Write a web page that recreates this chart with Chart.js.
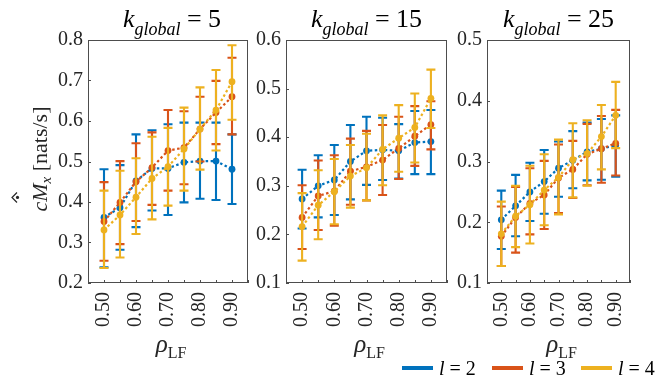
<!DOCTYPE html>
<html>
<head>
<meta charset="utf-8">
<script src="https://cdn.jsdelivr.net/npm/chart.js@4.4.1/dist/chart.umd.min.js"></script>
<style>
  html, body { margin: 0; padding: 0; background: #fff; }
  #wrap { position: relative; width: 663px; height: 381px; }
  #wrap canvas { position: absolute; left: 0; top: 0; }
</style>
</head>
<body>
<div id="wrap">
  <canvas id="c5" width="663" height="381"></canvas>
  <canvas id="c15" width="663" height="381"></canvas>
  <canvas id="c25" width="663" height="381"></canvas>
</div>
<script>
// eixo x: rho_LF
const rhoLF = [0.50, 0.55, 0.60, 0.65, 0.70, 0.75, 0.80, 0.85, 0.90];
const seriesLabels = ['2', '3', '4'];   // l = 2, 3, 4

// k_global = 5  (media, limite inferior, limite superior)
const k5_l2_mean = [0.362, 0.386, 0.452, 0.483, 0.483, 0.498, 0.501, 0.501, 0.481];
const k5_l2_lo   = [0.239, 0.282, 0.338, 0.379, 0.368, 0.399, 0.408, 0.405, 0.395];
const k5_l2_hi   = [0.481, 0.491, 0.567, 0.577, 0.592, 0.596, 0.596, 0.596, 0.567];
const k5_l3_mean = [0.352, 0.399, 0.450, 0.485, 0.527, 0.534, 0.580, 0.621, 0.660];
const k5_l3_lo   = [0.255, 0.296, 0.353, 0.393, 0.428, 0.444, 0.500, 0.543, 0.567];
const k5_l3_hi   = [0.449, 0.501, 0.545, 0.572, 0.627, 0.624, 0.660, 0.699, 0.756];
const k5_l4_mean = [0.331, 0.368, 0.412, 0.458, 0.487, 0.531, 0.580, 0.627, 0.697];
const k5_l4_lo   = [0.237, 0.263, 0.321, 0.357, 0.391, 0.428, 0.480, 0.527, 0.603];
const k5_l4_hi   = [0.428, 0.477, 0.508, 0.561, 0.583, 0.633, 0.683, 0.726, 0.787];

// k_global = 15
const k15_l2_mean = [0.273, 0.300, 0.312, 0.350, 0.372, 0.374, 0.372, 0.389, 0.391];
const k15_l2_lo   = [0.212, 0.235, 0.240, 0.272, 0.302, 0.312, 0.315, 0.324, 0.324];
const k15_l2_hi   = [0.333, 0.363, 0.384, 0.425, 0.442, 0.440, 0.427, 0.454, 0.456];
const k15_l3_mean = [0.235, 0.279, 0.289, 0.330, 0.339, 0.353, 0.377, 0.402, 0.426];
const k15_l3_lo   = [0.170, 0.209, 0.218, 0.261, 0.270, 0.281, 0.314, 0.341, 0.375];
const k15_l3_hi   = [0.301, 0.352, 0.363, 0.397, 0.413, 0.425, 0.442, 0.464, 0.474];
const k15_l4_mean = [0.216, 0.260, 0.288, 0.320, 0.337, 0.375, 0.398, 0.420, 0.480];
const k15_l4_lo   = [0.146, 0.190, 0.221, 0.255, 0.270, 0.301, 0.329, 0.348, 0.419];
const k15_l4_hi   = [0.285, 0.332, 0.355, 0.384, 0.407, 0.445, 0.466, 0.490, 0.539];

// k_global = 25
const k25_l2_mean = [0.204, 0.227, 0.250, 0.267, 0.289, 0.302, 0.316, 0.321, 0.327];
const k25_l2_lo   = [0.156, 0.177, 0.202, 0.214, 0.242, 0.256, 0.269, 0.270, 0.275];
const k25_l2_hi   = [0.252, 0.278, 0.298, 0.319, 0.333, 0.350, 0.364, 0.370, 0.376];
const k25_l3_mean = [0.177, 0.208, 0.231, 0.245, 0.273, 0.287, 0.312, 0.321, 0.330];
const k25_l3_lo   = [0.128, 0.150, 0.180, 0.189, 0.215, 0.240, 0.261, 0.265, 0.277];
const k25_l3_hi   = [0.226, 0.258, 0.289, 0.301, 0.328, 0.334, 0.362, 0.375, 0.385];
const k25_l4_mean = [0.181, 0.210, 0.229, 0.253, 0.274, 0.303, 0.313, 0.341, 0.376];
const k25_l4_lo   = [0.128, 0.159, 0.165, 0.195, 0.213, 0.241, 0.260, 0.287, 0.322];
const k25_l4_hi   = [0.234, 0.260, 0.293, 0.312, 0.336, 0.363, 0.368, 0.393, 0.431];

const CORES = ['#0072BD', '#D95319', '#EDB120'];
const FONTE = '"Liberation Serif", "Times New Roman", serif';
const EIXO = '#4d4d4d';

Chart.defaults.font.family = FONTE;
Chart.defaults.font.size = 20;
Chart.defaults.color = '#262626';

// desenha pedaços de texto com fontes diferentes (subscritos etc.)
function desenhaPartes(ctx, partes, cx, y) {
    let total = 0;
    partes.forEach(p => { ctx.font = p.f; p.w = ctx.measureText(p.t).width; total += p.w; });
    let x = cx - total / 2;
    partes.forEach(p => {
        ctx.font = p.f;
        ctx.fillText(p.t, x, y + (p.dy || 0));
        p.x = x;
        x += p.w;
    });
    return partes;
}

// barras de erro: desenhadas antes de cada dataset, assim ficam por baixo da linha
const barrasErro = {
    id: 'barrasErro',
    beforeDatasetDraw(chart, args) {
        const ds = chart.data.datasets[args.index];
        const { ctx, scales: { x, y } } = chart;
        ctx.save();
        ctx.strokeStyle = ds.borderColor;
        ctx.lineWidth = 2.1;
        ctx.lineCap = 'butt';
        rhoLF.forEach((r, i) => {
            const px = x.getPixelForValue(r);
            const yl = y.getPixelForValue(ds.errLo[i]);
            const yh = y.getPixelForValue(ds.errHi[i]);
            ctx.beginPath();
            ctx.moveTo(px, yl); ctx.lineTo(px, yh);
            ctx.moveTo(px - 4.5, yl); ctx.lineTo(px + 4.5, yl);
            ctx.moveTo(px - 4.5, yh); ctx.lineTo(px + 4.5, yh);
            ctx.stroke();
        });
        ctx.restore();
    }
};

// moldura, ticks para dentro, titulo, rotulos dos eixos, legenda
const textosPainel = {
    id: 'textosPainel',
    afterDraw(chart, args, opts) {
        const { ctx, chartArea: a, scales: { x, y } } = chart;
        ctx.save();
        ctx.strokeStyle = EIXO;
        ctx.lineWidth = 1;
        ctx.strokeRect(a.left + 0.5, a.top + 0.5, a.right - a.left - 1, a.bottom - a.top - 1);
        ctx.beginPath();
        x.ticks.forEach(t => {
            const px = Math.round(x.getPixelForValue(t.value)) + 0.5;
            ctx.moveTo(px, a.bottom); ctx.lineTo(px, a.bottom - 3);
        });
        y.ticks.forEach(t => {
            const py = Math.round(y.getPixelForValue(t.value)) + 0.5;
            ctx.moveTo(a.left, py); ctx.lineTo(a.left + 3, py);
        });
        ctx.stroke();

        ctx.fillStyle = '#000';
        ctx.textBaseline = 'alphabetic';
        const cx = (a.left + a.right) / 2;
        desenhaPartes(ctx, [
            { t: 'k', f: 'italic 26px ' + FONTE },
            { t: 'global', f: 'italic 18px ' + FONTE, dy: 8 },
            { t: ' = ' + opts.k, f: '26px ' + FONTE }
        ], cx + (opts.tituloDx || 0), 27);

        ctx.fillStyle = '#262626';
        desenhaPartes(ctx, [
            { t: 'ρ', f: 'italic 25px ' + FONTE },
            { t: 'LF', f: '16px ' + FONTE, dy: 6 }
        ], cx + 3, 352);

        if (opts.rotuloY) {
            ctx.save();
            ctx.translate(47, 159);
            ctx.rotate(-Math.PI / 2);
            const p = desenhaPartes(ctx, [
                { t: 'c', f: 'italic 22px ' + FONTE },
                { t: 'M', f: 'italic 22px ' + FONTE },
                { t: 'x', f: 'italic 15px ' + FONTE, dy: 4 },
                { t: ' [nats/s]', f: '22px ' + FONTE }
            ], 0, 0);
            const hx = (p[0].x + p[1].x + p[1].w) / 2;
            ctx.strokeStyle = '#262626';
            ctx.lineWidth = 1.2;
            ctx.beginPath();
            ctx.moveTo(hx - 5, -30); ctx.lineTo(hx, -35); ctx.lineTo(hx + 5, -30);
            ctx.stroke();
            ctx.beginPath();
            ctx.arc(hx, -29.5, 1.6, 0, Math.PI * 2);
            ctx.fill();
            ctx.restore();
        }

        if (opts.legenda) {
            const x0 = [402, 492, 581];
            seriesLabels.forEach((lab, i) => {
                ctx.strokeStyle = CORES[i];
                ctx.lineWidth = 4;
                ctx.beginPath();
                ctx.moveTo(x0[i], 368); ctx.lineTo(x0[i] + 31, 368);
                ctx.stroke();
                ctx.fillStyle = '#000';
                ctx.font = 'italic 20px ' + FONTE;
                ctx.fillText('l', x0[i] + 37, 375);
                const w = ctx.measureText('l').width;
                ctx.font = '20px ' + FONTE;
                ctx.fillText(' = ' + lab, x0[i] + 37 + w, 375);
            });
        }
        ctx.restore();
    }
};

const Y_W = 40, X_H = 60;

function criaPainel(id, k, medias, los, his, yMin, yMax, esq, dir, extras) {
    const datasets = medias.map((m, i) => ({
        label: 'l = ' + seriesLabels[i],
        data: rhoLF.map((r, j) => ({ x: r, y: m[j] })),
        errLo: los[i],
        errHi: his[i],
        borderColor: CORES[i],
        backgroundColor: CORES[i],
        borderWidth: 2.2,
        borderDash: [2.5, 2.5],
        pointRadius: 3.4,
        pointBorderWidth: 0,
        pointBackgroundColor: CORES[i],
        order: 3 - i,
        tension: 0
    }));
    return new Chart(document.getElementById(id), {
        type: 'line',
        data: { datasets },
        plugins: [barrasErro, textosPainel],
        options: {
            responsive: false,
            animation: false,
            events: [],
            layout: { padding: { left: esq - Y_W, right: 663 - dir, top: 40, bottom: 381 - 283 - X_H } },
            plugins: {
                legend: { display: false },
                tooltip: { enabled: false },
                textosPainel: Object.assign({ k }, extras)
            },
            scales: {
                x: {
                    type: 'linear',
                    min: 0.45, max: 0.95,
                    afterFit: s => { s.height = X_H; },
                    grid: { display: false, drawTicks: false },
                    border: { display: false },
                    ticks: {
                        stepSize: 0.05,
                        autoSkip: false,
                        minRotation: 90, maxRotation: 90,
                        padding: 9,
                        callback: v => {
                            const r = Math.round(v * 100);
                            return (r % 10 === 0 && r >= 50 && r <= 90) ? (r / 100).toFixed(2) : '';
                        }
                    }
                },
                y: {
                    min: yMin, max: yMax,
                    afterFit: s => { s.width = Y_W; },
                    grid: { display: false, drawTicks: false },
                    border: { display: false },
                    ticks: { stepSize: 0.1, padding: 5, callback: v => v.toFixed(1) }
                }
            }
        }
    });
}

criaPainel('c5', 5, [k5_l2_mean, k5_l3_mean, k5_l4_mean], [k5_l2_lo, k5_l3_lo, k5_l4_lo],
    [k5_l2_hi, k5_l3_hi, k5_l4_hi], 0.2, 0.8, 88, 248, { rotuloY: true, tituloDx: 4 });
criaPainel('c15', 15, [k15_l2_mean, k15_l3_mean, k15_l4_mean], [k15_l2_lo, k15_l3_lo, k15_l4_lo],
    [k15_l2_hi, k15_l3_hi, k15_l4_hi], 0.1, 0.6, 286, 447, {});
criaPainel('c25', 25, [k25_l2_mean, k25_l3_mean, k25_l4_mean], [k25_l2_lo, k25_l3_lo, k25_l4_lo],
    [k25_l2_hi, k25_l3_hi, k25_l4_hi], 0.1, 0.5, 487, 648, { legenda: true });
</script>
</body>
</html>
